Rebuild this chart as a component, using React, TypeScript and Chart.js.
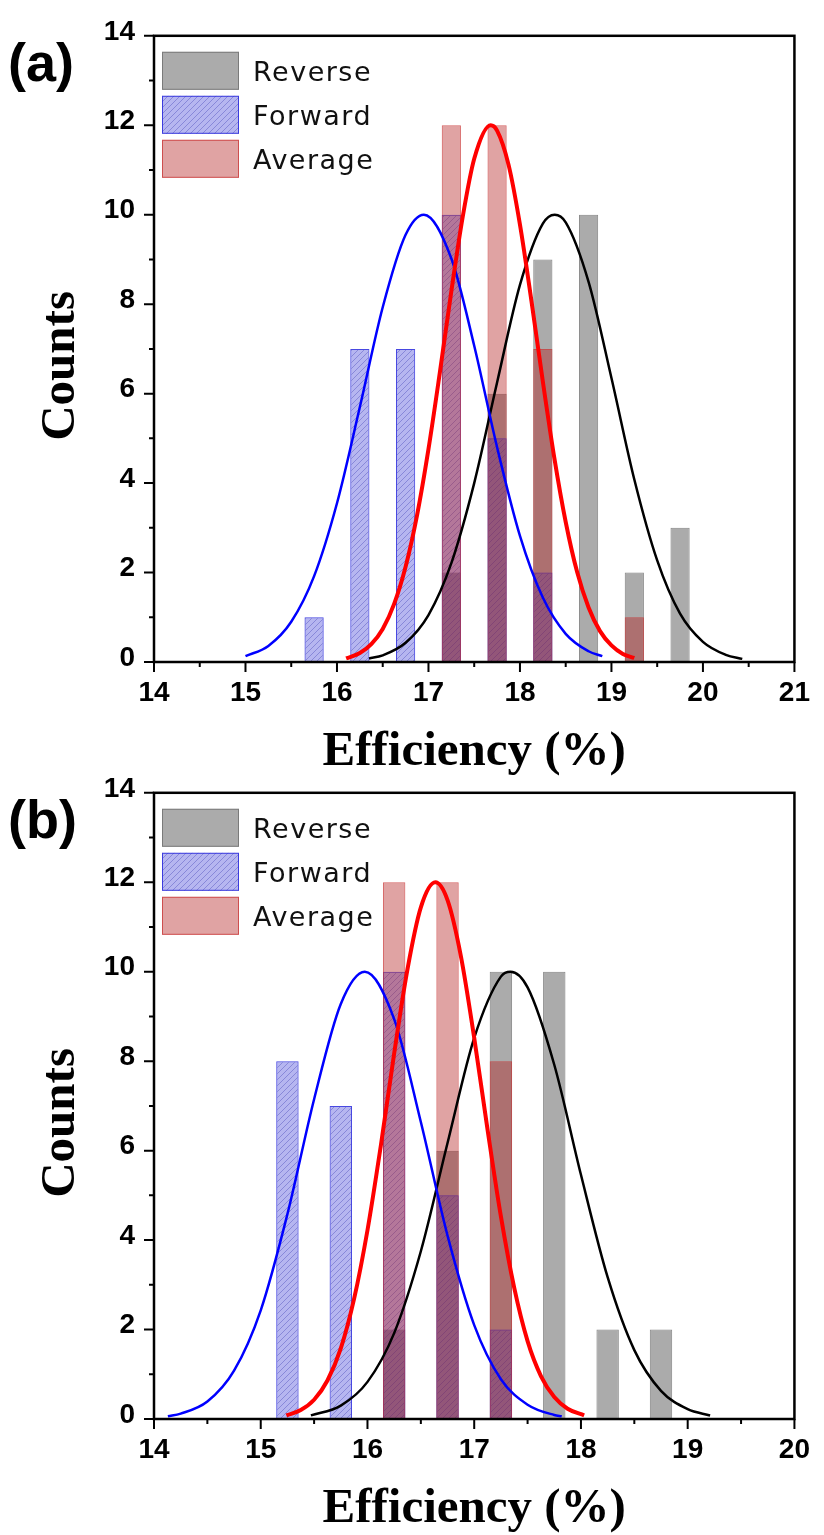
import React, { useEffect, useRef } from 'react';
import { Chart, registerables } from 'chart.js';

Chart.register(...registerables);

// ---------- Panel (a) ----------
const xTicksA = [14, 15, 16, 17, 18, 19, 20, 21];
const reverseBinsA = [17.25, 17.75, 18.25, 18.75, 19.25, 19.75];
const reverseCountsA = [2, 6, 9, 10, 2, 3];
const forwardBinsA = [15.75, 16.25, 16.75, 17.25, 17.75, 18.25];
const forwardCountsA = [1, 7, 7, 10, 5, 2];
const averageBinsA = [17.25, 17.75, 18.25, 19.25];
const averageCountsA = [12, 12, 7, 1];

const forwardFitXA = [15.0, 15.25, 15.5, 15.75, 16.0, 16.25, 16.5, 16.75, 16.95, 17.25, 17.5, 17.75, 18.0, 18.25, 18.5, 18.75, 18.9];
const forwardFitYA = [0.13, 0.36, 0.9, 1.92, 3.55, 5.7, 7.93, 9.55, 10.0, 9.02, 7.07, 4.8, 2.82, 1.44, 0.63, 0.24, 0.13];
const reverseFitXA = [16.35, 16.5, 16.75, 17.0, 17.25, 17.5, 17.75, 18.0, 18.25, 18.38, 18.5, 18.75, 19.0, 19.25, 19.5, 19.75, 20.0, 20.25, 20.43];
const reverseFitYA = [0.08, 0.15, 0.43, 1.05, 2.21, 4.0, 6.25, 8.43, 9.8, 10.0, 9.83, 8.5, 6.35, 4.08, 2.27, 1.08, 0.45, 0.16, 0.07];
const averageFitXA = [16.1, 16.25, 16.375, 16.5, 16.625, 16.75, 16.875, 17.0, 17.125, 17.25, 17.375, 17.5, 17.68, 17.75, 17.875, 18.0, 18.125, 18.25, 18.375, 18.5, 18.625, 18.75, 18.875, 19.0, 19.125, 19.25];
const averageFitYA = [0.08, 0.2, 0.4, 0.74, 1.3, 2.13, 3.28, 4.76, 6.48, 8.29, 9.96, 11.25, 12.0, 11.88, 11.12, 9.78, 8.08, 6.27, 4.57, 3.13, 2.01, 1.22, 0.69, 0.37, 0.18, 0.09];

// ---------- Panel (b) ----------
const xTicksB = [14, 15, 16, 17, 18, 19, 20];
const reverseBinsB = [16.25, 16.75, 17.25, 17.75, 18.25, 18.75];
const reverseCountsB = [2, 6, 10, 10, 2, 2];
const forwardBinsB = [15.25, 15.75, 16.25, 16.75, 17.25];
const forwardCountsB = [8, 7, 10, 5, 2];
const averageBinsB = [16.25, 16.75, 17.25];
const averageCountsB = [12, 12, 8];

const forwardFitXB = [14.13, 14.25, 14.5, 14.75, 15.0, 15.25, 15.5, 15.75, 15.975, 16.25, 16.5, 16.75, 17.0, 17.25, 17.5, 17.75, 17.82];
const forwardFitYB = [0.06, 0.12, 0.39, 1.08, 2.43, 4.58, 7.15, 9.28, 10.0, 8.94, 6.64, 4.1, 2.1, 0.89, 0.32, 0.09, 0.06];
const reverseFitXB = [15.47, 15.75, 16.0, 16.25, 16.5, 16.75, 17.0, 17.25, 17.34, 17.5, 17.75, 18.0, 18.25, 18.5, 18.75, 19.0, 19.21];
const reverseFitYB = [0.08, 0.3, 0.83, 1.92, 3.75, 6.17, 8.52, 9.89, 10.0, 9.65, 7.92, 5.46, 3.17, 1.54, 0.63, 0.22, 0.08];
const averageFitXB = [15.24, 15.375, 15.5, 15.625, 15.75, 15.875, 16.0, 16.125, 16.25, 16.375, 16.5, 16.636, 16.75, 16.875, 17.0, 17.125, 17.25, 17.375, 17.5, 17.625, 17.75, 17.875, 18.03];
const averageFitYB = [0.08, 0.2, 0.43, 0.86, 1.58, 2.69, 4.22, 6.11, 8.17, 10.06, 11.44, 12.0, 11.6, 10.35, 8.52, 6.47, 4.53, 2.93, 1.74, 0.96, 0.49, 0.23, 0.08];

// ---------- shared ----------
const yTicks = [0, 2, 4, 6, 8, 10, 12, 14];
const seriesNames = ['Reverse', 'Forward', 'Average'];
const xTitle = 'Efficiency (%)';
const yTitle = 'Counts';

const REVERSE_FILL = 'rgba(128,128,128,0.66)';
const REVERSE_BORDER = 'rgba(110,110,110,0.8)';
const FORWARD_BORDER = 'rgba(40,40,220,0.85)';
const AVERAGE_FILL = 'rgba(178,24,24,0.40)';
const AVERAGE_BORDER = 'rgba(200,50,50,0.75)';

const CANVAS_W = 824;
const CANVAS_H = 778;
const PLOT_TOP = 31;
const PLOT_H = 631;
const Y_AXIS_W = 154;
const RIGHT_PAD = 19;

type Panel = {
  label: string;
  xMin: number;
  xMax: number;
  xTicks: number[];
  rb: number[]; rc: number[];
  fb: number[]; fc: number[];
  ab: number[]; ac: number[];
  rfx: number[]; rfy: number[];
  ffx: number[]; ffy: number[];
  afx: number[]; afy: number[];
};

const panelA: Panel = {
  label: '(a)', xMin: 14, xMax: 21, xTicks: xTicksA,
  rb: reverseBinsA, rc: reverseCountsA, fb: forwardBinsA, fc: forwardCountsA, ab: averageBinsA, ac: averageCountsA,
  rfx: reverseFitXA, rfy: reverseFitYA, ffx: forwardFitXA, ffy: forwardFitYA, afx: averageFitXA, afy: averageFitYA,
};
const panelB: Panel = {
  label: '(b)', xMin: 14, xMax: 20, xTicks: xTicksB,
  rb: reverseBinsB, rc: reverseCountsB, fb: forwardBinsB, fc: forwardCountsB, ab: averageBinsB, ac: averageCountsB,
  rfx: reverseFitXB, rfy: reverseFitYB, ffx: forwardFitXB, ffy: forwardFitYB, afx: averageFitXB, afy: averageFitYB,
};

const zip = (xs: number[], ys: number[]) => xs.map((x, i) => ({ x, y: ys[i] }));

function makeHatch(): CanvasPattern | string {
  const c = document.createElement('canvas');
  const s = 6;
  c.width = s;
  c.height = s;
  const g = c.getContext('2d');
  if (!g) return 'rgba(40,40,210,0.34)';
  g.fillStyle = 'rgba(40,40,210,0.34)';
  g.fillRect(0, 0, s, s);
  g.strokeStyle = 'rgba(40,40,170,0.32)';
  g.lineWidth = 1;
  g.beginPath();
  g.moveTo(0, s); g.lineTo(s, 0);
  g.moveTo(-1, 1); g.lineTo(1, -1);
  g.moveTo(s - 1, s + 1); g.lineTo(s + 1, s - 1);
  g.stroke();
  const p = g.createPattern(c, 'repeat');
  return p || 'rgba(40,40,210,0.34)';
}

function decorPlugin(label: string, fills: (string | CanvasPattern)[], borders: string[]) {
  return {
    id: 'decor',
    afterDatasetsDraw(chart: any) {
      const { ctx, chartArea: a, scales } = chart;
      const xs = scales.x;
      const ys = scales.y;
      ctx.save();
      ctx.strokeStyle = '#000';
      ctx.lineWidth = 2;
      const xv: number[] = xs.ticks.map((t: any) => t.value);
      ctx.beginPath();
      for (let i = 0; i < xv.length; i++) {
        const p = xs.getPixelForValue(xv[i]);
        ctx.moveTo(p, a.bottom); ctx.lineTo(p, a.bottom + 10);
        if (i < xv.length - 1) {
          const m = xs.getPixelForValue((xv[i] + xv[i + 1]) / 2);
          ctx.moveTo(m, a.bottom); ctx.lineTo(m, a.bottom + 5);
        }
      }
      const yv: number[] = ys.ticks.map((t: any) => t.value);
      for (let i = 0; i < yv.length; i++) {
        const p = ys.getPixelForValue(yv[i]);
        ctx.moveTo(a.left, p); ctx.lineTo(a.left - 10, p);
        if (i < yv.length - 1) {
          const m = ys.getPixelForValue((yv[i] + yv[i + 1]) / 2);
          ctx.moveTo(a.left, m); ctx.lineTo(a.left - 5, m);
        }
      }
      ctx.stroke();
      ctx.lineWidth = 2.5;
      ctx.strokeRect(a.left, a.top, a.right - a.left, a.bottom - a.top);

      // legend
      ctx.font = '27px "DejaVu Sans", "Open Sans", sans-serif';
      try { (ctx as any).letterSpacing = '1.5px'; } catch (e) { /* ignore */ }
      ctx.textAlign = 'left';
      ctx.textBaseline = 'alphabetic';
      for (let i = 0; i < seriesNames.length; i++) {
        const bx = a.left + 8;
        const by = a.top + 16 + i * 44;
        ctx.fillStyle = '#fff';
        ctx.fillRect(bx, by, 77, 38);
        ctx.fillStyle = fills[i];
        ctx.fillRect(bx, by, 77, 38);
        ctx.strokeStyle = borders[i];
        ctx.lineWidth = 1;
        ctx.strokeRect(bx + 0.5, by + 0.5, 76, 37);
        ctx.fillStyle = '#111';
        ctx.fillText(seriesNames[i], a.left + 99, by + 29);
      }
      try { (ctx as any).letterSpacing = '0px'; } catch (e) { /* ignore */ }

      // axis titles
      ctx.fillStyle = '#000';
      ctx.font = 'bold 49px "Liberation Serif", "Times New Roman", serif';
      ctx.textAlign = 'center';
      ctx.fillText(xTitle, (a.left + a.right) / 2, a.bottom + 103);
      ctx.save();
      ctx.translate(74, (a.top + a.bottom) / 2 + 17);
      ctx.rotate(-Math.PI / 2);
      ctx.fillText(yTitle, 0, 0);
      ctx.restore();

      // panel label
      ctx.font = 'bold 54px "Liberation Sans", Arial, sans-serif';
      ctx.textAlign = 'left';
      ctx.fillText(label, 8, 81);
      ctx.restore();
    },
  };
}

function PanelChart({ panel, top }: { panel: Panel; top: number }) {
  const ref = useRef<HTMLCanvasElement | null>(null);
  useEffect(() => {
    const canvas = ref.current;
    if (!canvas) return;
    const hatch = makeHatch();
    const tickFont = { family: '"Liberation Sans", Arial, sans-serif', size: 28, weight: 'bold' as const };
    const barCommon = { grouped: false, barPercentage: 0.42, categoryPercentage: 1, borderWidth: 1 };
    const chart = new Chart(canvas, {
      type: 'bar',
      data: {
        datasets: [
          { type: 'bar', label: 'Reverse', data: zip(panel.rb, panel.rc), backgroundColor: REVERSE_FILL, borderColor: REVERSE_BORDER, order: 6, ...barCommon } as any,
          { type: 'bar', label: 'Forward', data: zip(panel.fb, panel.fc), backgroundColor: hatch, borderColor: FORWARD_BORDER, order: 5, ...barCommon } as any,
          { type: 'bar', label: 'Average', data: zip(panel.ab, panel.ac), backgroundColor: AVERAGE_FILL, borderColor: AVERAGE_BORDER, order: 4, ...barCommon } as any,
          { type: 'line', label: 'Reverse fit', data: zip(panel.rfx, panel.rfy), borderColor: '#000', borderWidth: 2.5, pointRadius: 0, fill: false, cubicInterpolationMode: 'monotone', order: 3 } as any,
          { type: 'line', label: 'Forward fit', data: zip(panel.ffx, panel.ffy), borderColor: '#0000ff', borderWidth: 2.5, pointRadius: 0, fill: false, cubicInterpolationMode: 'monotone', order: 2 } as any,
          { type: 'line', label: 'Average fit', data: zip(panel.afx, panel.afy), borderColor: '#ff0000', borderWidth: 4, pointRadius: 0, fill: false, cubicInterpolationMode: 'monotone', order: 1 } as any,
        ],
      },
      options: {
        responsive: false,
        animation: false,
        events: [],
        layout: { padding: { top: PLOT_TOP, right: RIGHT_PAD, left: 0, bottom: 0 } },
        plugins: { legend: { display: false }, tooltip: { enabled: false } },
        scales: {
          x: {
            type: 'linear',
            min: panel.xMin,
            max: panel.xMax,
            offset: false,
            grid: { display: false, drawTicks: false, offset: false },
            border: { display: false },
            afterBuildTicks: (s: any) => { s.ticks = panel.xTicks.map((v) => ({ value: v })); },
            afterFit: (s: any) => { s.height = CANVAS_H - PLOT_TOP - PLOT_H; },
            ticks: { font: tickFont, color: '#000', padding: 14, autoSkip: false, maxRotation: 0, callback: (v: any) => String(v) },
          },
          y: {
            type: 'linear',
            min: 0,
            max: 14,
            grid: { display: false, drawTicks: false },
            border: { display: false },
            afterBuildTicks: (s: any) => { s.ticks = yTicks.map((v) => ({ value: v })); },
            afterFit: (s: any) => { s.width = Y_AXIS_W; },
            ticks: { font: tickFont, color: '#000', padding: 19, labelOffset: -4, callback: (v: any) => String(v) },
          },
        } as any,
      },
      plugins: [decorPlugin(panel.label, [REVERSE_FILL, hatch, AVERAGE_FILL], [REVERSE_BORDER, FORWARD_BORDER, AVERAGE_BORDER])],
    } as any);
    return () => chart.destroy();
  }, [panel]);
  return (
    <canvas
      ref={ref}
      width={CANVAS_W}
      height={CANVAS_H}
      style={{ position: 'absolute', left: 0, top, width: CANVAS_W, height: CANVAS_H, display: 'block' }}
    />
  );
}

export default function App() {
  return (
    <div style={{ position: 'absolute', left: 0, top: 0, width: 824, height: 1535, background: '#fff' }}>
      <PanelChart panel={panelA} top={0} />
      <PanelChart panel={panelB} top={757} />
    </div>
  );
}
